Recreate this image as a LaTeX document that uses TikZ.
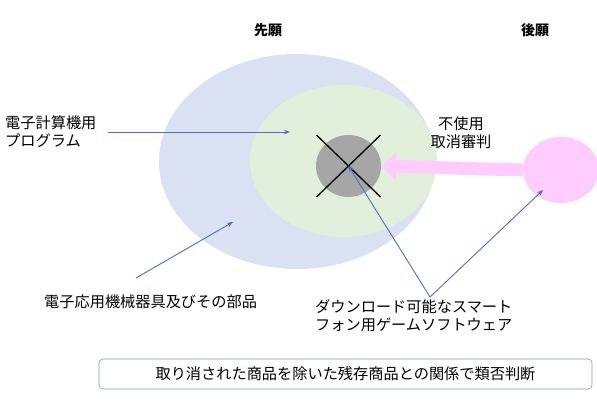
\documentclass[tikz,border=0pt]{standalone}
\usepackage{fontspec}
\setmainfont{Noto Sans CJK JP}
\usetikzlibrary{arrows.meta,shapes.geometric}

\definecolor{senganblue}{HTML}{D9E1F2}
\definecolor{shitegreen}{HTML}{E2EFDA}
\definecolor{torikeshigray}{HTML}{A6A6A6}
\definecolor{koganpink}{HTML}{FFCCFF}
\definecolor{yajirushi}{HTML}{4472C4}
\definecolor{wakusen}{HTML}{8497B0}

\tikzset{
	region/.style = {ellipse, inner sep=0pt},
	label/.style = {font=\fontsize{15.2}{18}\selectfont, align=left, inner sep=0pt},
	heading/.style = {font=\fontsize{14}{16}\selectfont\bfseries, inner sep=0pt},
	pointer/.style = {draw=yajirushi, line width=0.9pt, -{Stealth[length=6pt,width=4.5pt]}},
	cross/.style = {line width=1.3pt, black},
}

\begin{document}
\begin{tikzpicture}[x=1pt,y=-1pt]
	\useasboundingbox (0,0) rectangle (597,400);
	% headings
		\node[heading] (sengan) at (268,30) {先願};
		\node[heading] (kogan) at (535,30) {後願};
	% regions
		\node[region, fill=senganblue, minimum width=276pt, minimum height=215pt] (computer) at (297,161.5) {};
		\node[region, fill=shitegreen, minimum width=187pt, minimum height=152pt] (program) at (343.5,161) {};
		\node[region, fill=torikeshigray, minimum width=65pt, minimum height=62pt] (game) at (348.5,166) {};
		\node[region, fill=koganpink, minimum width=76pt, minimum height=66pt] (later) at (561,170) {};
	% cross over the cancelled goods
		\draw[cross] (game.center) ++(-32,-31) coordinate (xa) -- (game.center) -- ++(32,31) coordinate (xb);
		\draw[cross] (game.center) ++(-32,31) coordinate (xc) -- (game.center) -- ++(32,-31) coordinate (xd);
	% non-use cancellation arrow
		\draw[koganpink, line width=13pt, -{Triangle[length=15pt,width=27pt]}] (later.west) -- (game.east);
		\node[label, align=center] (fushiyo) at (461,133) {不使用\\取消審判};
	% labels
		\node[label, anchor=west] (programlabel) at (5,132) {電子計算機用\\プログラム};
		\node[label, anchor=west] (machinelabel) at (44,302) {電子応用機械器具及びその部品};
		\node[label, anchor=north west] (gamelabel) at (315,299) {ダウンロード可能なスマート\\フォン用ゲームソフトウェア};
	% pointers
		\coordinate (ptA) at (108,132);
		\coordinate (inprogram) at (290,132);
		\coordinate (ptB) at (136,278);
		\coordinate (incomputer) at (233,222);
		\coordinate (ptC) at (430,297);
		\coordinate (inlater) at (543,190);
		\draw[pointer] (ptA) -- (inprogram);
		\draw[pointer] (ptB) -- (incomputer);
		\draw[pointer] (ptC) -- (game.center);
		\draw[pointer] (ptC) -- (inlater);
	% conclusion
		\node[draw=wakusen, rounded corners=4pt, line width=0.6pt, minimum width=493pt, minimum height=30pt, font=\fontsize{15.2}{18}\selectfont] (hantei) at (345.5,374) {取り消された商品を除いた残存商品との関係で類否判断};
\end{tikzpicture}
\end{document}
